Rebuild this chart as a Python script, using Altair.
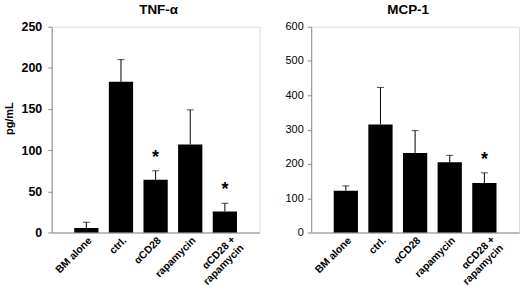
import altair as alt
import pandas as pd

categories = ["BM alone", "ctrl.", "αCD28", "rapamycin", "αCD28 +\nrapamycin"]
tnf_mean = [5.5, 183, 64, 107, 25.5]
tnf_sem = [7, 27, 11, 42, 10]
tnf_star = ["", "", "*", "", "*"]
mcp_mean = [122, 315, 232, 205, 144]
mcp_sem = [14, 108, 65, 20, 30]
mcp_star = ["", "", "", "", "*"]

FONT = "Liberation Sans"
AXIS_GRAY = "#8a8a8a"
MULTI = "indexof(datum.value, '+') >= 0"


def panel(mean, sem, star, title, ymax, ystep, ytitle, ylab_bold, ylab_size, ylab_pad, title_dx):
    df = pd.DataFrame({
        "cat": categories,
        "mean": mean,
        "upper": [m + s for m, s in zip(mean, sem)],
        "star": star,
    })
    x = alt.X(
        "cat:N",
        sort=categories,
        scale=alt.Scale(paddingInner=0.3, paddingOuter=0.65),
        axis=alt.Axis(
            title=None, labelAngle=-45, labelAlign="right", labelBaseline="middle",
            labelFontWeight="bold", labelFontSize=10.5, labelColor="black",
            labelOffset={"condition": {"test": MULTI, "value": 9}, "value": 4},
            labelPadding={"condition": {"test": MULTI, "value": 5}, "value": 6},
            ticks=False, domainColor=AXIS_GRAY,
            labelLineHeight=12, labelFont=FONT, labelOverlap=False,
            labelExpr="split(datum.label, '\\n')",
        ),
    )
    axis_kwargs = dict(
        values=list(range(0, ymax + 1, ystep)), grid=False, domainColor=AXIS_GRAY,
        tickColor=AXIS_GRAY, tickSize=4, labelPadding=ylab_pad, labelFontSize=ylab_size,
        labelFontWeight="bold" if ylab_bold else "normal", labelColor="black", labelFont=FONT,
    )
    if ytitle:
        axis_kwargs.update(title=ytitle, titleFontSize=11, titleFontWeight="bold",
                           titleColor="black", titleFont=FONT, titleX=-37, titleY=92,
                           titleBaseline="bottom")
    else:
        axis_kwargs.update(title=None)
    scale = alt.Scale(domain=[0, ymax], nice=False)

    def yenc(field):
        return alt.Y(f"{field}:Q", scale=scale, axis=alt.Axis(**axis_kwargs))

    base = alt.Chart(df)
    bars = base.mark_bar(color="black").encode(x=x, y=yenc("mean"))
    rule = base.mark_rule(color="black", strokeWidth=1).encode(
        x=x, y=yenc("mean"), y2="upper:Q")
    cap = base.mark_tick(color="black", size=7, thickness=1).encode(x=x, y=yenc("upper"))
    stars = base.mark_text(fontSize=18, fontWeight="bold", font=FONT, dy=-13,
                           baseline="middle", color="black").encode(
        x=x, y=yenc("upper"), text="star:N")
    return alt.layer(bars, rule, cap, stars).properties(
        width=209, height=207,
        title=alt.TitleParams(title, fontSize=13.5, fontWeight="bold", font=FONT,
                              color="black", offset=4, dx=title_dx),
    )


left = panel(tnf_mean, tnf_sem, tnf_star, "TNF-α", 250, 50, "pg/mL", True, 12.5, 6, 3)
right = panel(mcp_mean, mcp_sem, mcp_star, "MCP-1", 600, 100, None, False, 11, 4, -7)

chart = alt.hconcat(left, right, spacing=24).properties(
    padding={"left": 3, "top": 2, "right": 0, "bottom": 6}
).configure_view(stroke=None).configure(font=FONT, background="white")

chart.save("out.html", embed_options={"renderer": "svg", "actions": False})
